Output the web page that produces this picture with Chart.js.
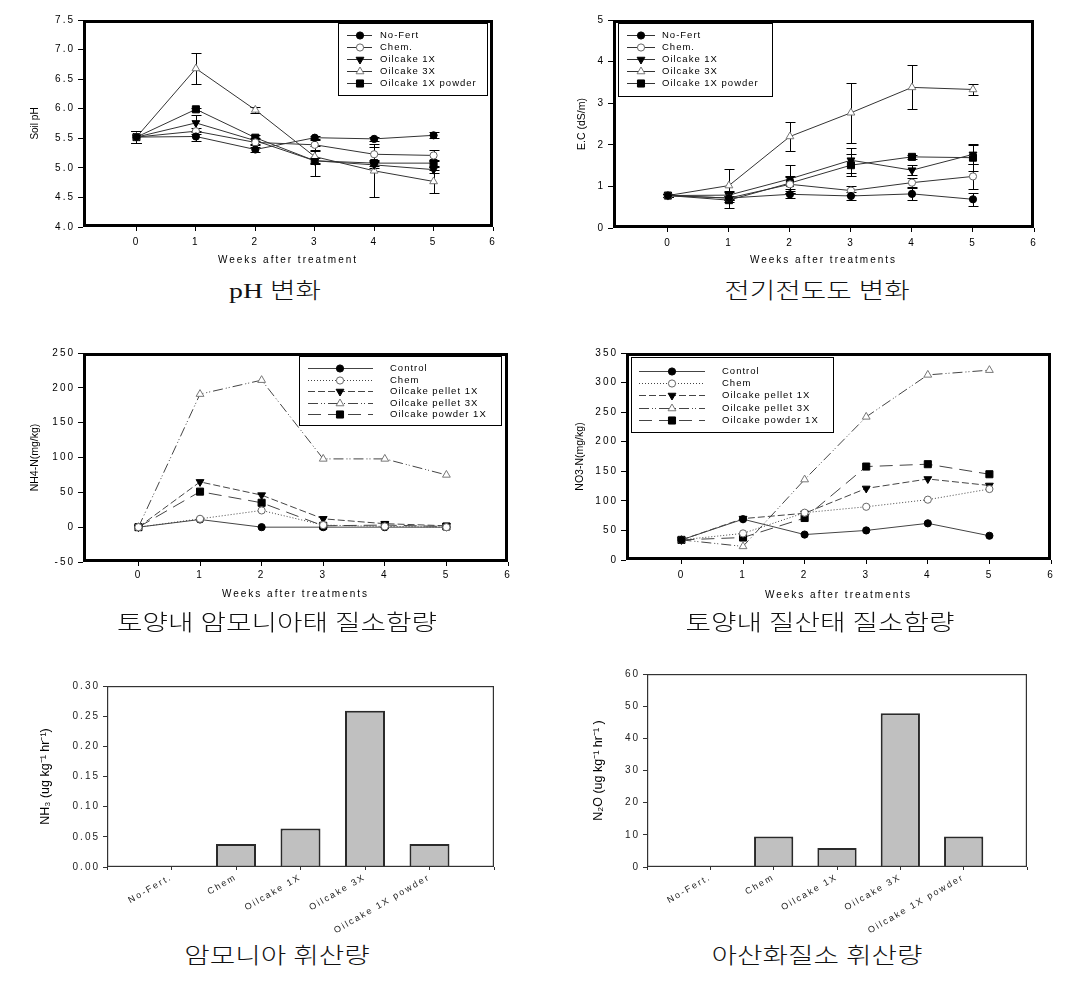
<!DOCTYPE html>
<html><head><meta charset="utf-8">
<script src="https://cdn.jsdelivr.net/npm/chart.js@4.4.1/dist/chart.umd.min.js"></script>
<style>
html,body{margin:0;padding:0;background:#fff;}
body{width:1082px;height:991px;position:relative;overflow:hidden;}
canvas{position:absolute;}
.cap{position:absolute;white-space:nowrap;font-family:'Liberation Serif','Noto Sans CJK KR',serif;font-size:22px;font-weight:300;line-height:30px;color:#111;transform:translateX(-50%) scaleX(1.26);z-index:5;}
</style></head>
<body>
<canvas id="c1" width="540" height="275" style="left:0;top:0"></canvas>
<canvas id="c2" width="541" height="275" style="left:541px;top:0"></canvas>
<canvas id="c3" width="540" height="320" style="left:0;top:310px"></canvas>
<canvas id="c4" width="541" height="320" style="left:541px;top:310px"></canvas>
<canvas id="c5" width="540" height="300" style="left:0;top:640px"></canvas>
<canvas id="c6" width="541" height="300" style="left:541px;top:640px"></canvas>
<div class="cap" style="left:275px;top:276px">pH 변화</div>
<div class="cap" style="left:817px;top:276px">전기전도도 변화</div>
<div class="cap" style="left:277px;top:608px">토양내 암모니아태 질소함량</div>
<div class="cap" style="left:820px;top:608px">토양내 질산태 질소함량</div>
<div class="cap" style="left:277px;top:941px">암모니아 휘산량</div>
<div class="cap" style="left:817px;top:941px">아산화질소 휘산량</div>
<script>
// ---------------- DATA ----------------
const weeks = [0, 1, 2, 3, 4, 5];

const labelsA = ['No-Fert', 'Chem.', 'Oilcake 1X', 'Oilcake 3X', 'Oilcake 1X powder'];
const labelsB = ['Control', 'Chem', 'Oilcake pellet 1X', 'Oilcake pellet 3X', 'Oilcake powder 1X'];

// Soil pH
const phNoFert = [5.52, 5.53, 5.31, 5.51, 5.49, 5.55];
const phChem   = [5.52, 5.62, 5.43, 5.39, 5.23, 5.21];
const phOil1x  = [5.52, 5.76, 5.46, 5.12, 5.05, 4.97];
const phOil3x  = [5.52, 6.68, 5.98, 5.19, 4.95, 4.77];
const phPowder = [5.52, 5.99, 5.51, 5.12, 5.08, 5.08];
const phNoFertErr = [0.10, 0.08, 0.04, 0.03, 0.03, 0.05];
const phChemErr   = [0.10, 0.05, 0.05, 0.08, 0.12, 0.10];
const phOil1xErr  = [0.10, 0.13, 0.05, 0.25, 0.05, 0.05];
const phOil3xErr  = [0.10, 0.27, 0.05, 0.10, 0.45, 0.19];
const phPowderErr = [0.10, 0.03, 0.05, 0.05, 0.05, 0.05];

// E.C (dS/m)
const ecNoFert = [0.78, 0.72, 0.81, 0.77, 0.82, 0.69];
const ecChem   = [0.78, 0.72, 1.05, 0.90, 1.09, 1.24];
const ecOil1x  = [0.78, 0.79, 1.18, 1.63, 1.39, 1.77];
const ecOil3x  = [0.78, 1.02, 2.20, 2.77, 3.38, 3.33];
const ecPowder = [0.78, 0.67, 1.08, 1.51, 1.71, 1.69];
const ecNoFertErr = [0.03, 0.05, 0.08, 0.10, 0.14, 0.16];
const ecChemErr   = [0.03, 0.05, 0.20, 0.10, 0.10, 0.30];
const ecOil1xErr  = [0.03, 0.10, 0.33, 0.30, 0.12, 0.23];
const ecOil3xErr  = [0.03, 0.40, 0.35, 0.72, 0.53, 0.13];
const ecPowderErr = [0.03, 0.19, 0.15, 0.27, 0.05, 0.33];

// NH4-N (mg/kg)
const nh4Control = [0, 11, 0, 0, 0, 0];
const nh4Chem    = [0, 12, 24, 3, 1, 0];
const nh4Pel1x   = [0, 65, 46, 12, 5, 2];
const nh4Pel3x   = [0, 191, 211, 98, 98, 75];
const nh4Pow1x   = [0, 51, 35, 2, 3, 1];

// NO3-N (mg/kg)
const no3Control = [34, 69, 43, 50, 62, 41];
const no3Chem    = [34, 45, 80, 90, 102, 120];
const no3Pel1x   = [34, 70, 79, 121, 137, 126];
const no3Pel3x   = [34, 23, 136, 242, 313, 321];
const no3Pow1x   = [34, 38, 71, 158, 162, 145];

// Volatilization bars
const barCats = ['No-Fert.', 'Chem', 'Oilcake 1X', 'Oilcake 3X', 'Oilcake 1X powder'];
const barPos  = [1, 2, 3, 4, 5];
const nh3Vals = [0, 0.038, 0.064, 0.259, 0.038];
const n2oVals = [0, 9.5, 5.9, 47.8, 9.5];

// ---------------- STYLE ----------------
const markers = [
  {style:'circle',   rot:0,   r:3.6, fill:'#000', stroke:'#000'},
  {style:'circle',   rot:0,   r:3.6, fill:'#fff', stroke:'#666'},
  {style:'triangle', rot:180, r:4.5, fill:'#000', stroke:'#000'},
  {style:'triangle', rot:0,   r:4.5, fill:'#fff', stroke:'#777'},
  {style:'rect',     rot:0,   r:5,   fill:'#000', stroke:'#000'}
];
const dashesB = [[], [1,2], [7,3], [10,3,1,2,1,3], [13,7]];

function mkSets(labels, series, errs, dashes, lineColor, orders){
  return series.map((vals,i)=>({
    label: labels[i],
    data: weeks.map((w,j)=>({x:w, y:vals[j]})),
    errors: errs ? errs[i] : null,
    order: orders ? orders[i] : 0,
    borderColor: lineColor, borderWidth: 1,
    borderDash: dashes ? dashes[i] : [],
    pointStyle: markers[i].style, pointRotation: markers[i].rot,
    pointRadius: markers[i].r, pointHoverRadius: markers[i].r,
    pointBackgroundColor: markers[i].fill, pointBorderColor: markers[i].stroke,
    pointBorderWidth: 1, tension: 0, fill: false
  }));
}

// ---------------- PLUGINS ----------------
const spacingPlugin = {
  id:'spacing',
  beforeLayout(chart,a,o){ chart.ctx.letterSpacing = o.main || '0px'; },
  beforeDraw(chart,a,o){ chart.ctx.letterSpacing = o.main || '0px'; },
  afterDatasetsDraw(chart,a,o){ chart.ctx.letterSpacing = o.after || '0px'; },
  afterDraw(chart){ chart.ctx.letterSpacing = '0px'; }
};
const errPlugin = {
  id:'errbars',
  beforeDatasetsDraw(chart,a,o){
    const ctx=chart.ctx, xs=chart.scales.x, ys=chart.scales.y;
    ctx.save(); ctx.strokeStyle='#000'; ctx.lineWidth=1; ctx.setLineDash([]);
    chart.data.datasets.forEach(ds=>{
      if(!ds.errors) return;
      ds.data.forEach((p,i)=>{
        const e=ds.errors[i]; if(!e) return;
        const x=Math.round(xs.getPixelForValue(p.x))+0.5;
        const y1=Math.round(ys.getPixelForValue(p.y+e))+0.5, y2=Math.round(ys.getPixelForValue(p.y-e))+0.5;
        ctx.beginPath();
        ctx.moveTo(x,y1); ctx.lineTo(x,y2);
        ctx.moveTo(x-5,y1); ctx.lineTo(x+5,y1);
        ctx.moveTo(x-5,y2); ctx.lineTo(x+5,y2);
        ctx.stroke();
      });
    });
    ctx.restore();
  }
};
const framePlugin = {
  id:'frame',
  afterDraw(chart,a,o){
    const ar=chart.chartArea, ctx=chart.ctx, w=o.width||1;
    ctx.save(); ctx.setLineDash([]); ctx.lineWidth=w; ctx.strokeStyle=o.color||'#000';
    ctx.strokeRect(ar.left+w/2, ar.top+w/2, ar.right-ar.left-w, ar.bottom-ar.top-w);
    ctx.restore();
  }
};
const legendPlugin = {
  id:'boxLegend',
  afterDraw(chart,a,o){
    if(!o || !o.box) return;
    const ctx=chart.ctx, b=o.box;
    ctx.save();
    ctx.letterSpacing = o.spacing || '0px';
    ctx.setLineDash([]); ctx.lineWidth=1; ctx.strokeStyle='#000';
    ctx.fillStyle='#fff'; ctx.fillRect(b.x, b.y, b.w, b.h);
    ctx.strokeRect(b.x+0.5, b.y+0.5, b.w, b.h);
    ctx.font = o.font; ctx.textBaseline='middle'; ctx.textAlign='left';
    chart.data.datasets.forEach((ds,i)=>{
      const y = Math.round(b.y + o.row0 + i*o.rowStep) + 0.5;
      ctx.save();
      ctx.strokeStyle = ds.borderColor; ctx.lineWidth = ds.borderWidth;
      ctx.setLineDash(ds.borderDash || []);
      ctx.beginPath(); ctx.moveTo(b.x+o.line0, y); ctx.lineTo(b.x+o.line1, y); ctx.stroke();
      ctx.setLineDash([]);
      ctx.fillStyle = ds.pointBackgroundColor; ctx.strokeStyle = ds.pointBorderColor; ctx.lineWidth = 1;
      Chart.helpers.drawPoint(ctx, {pointStyle: ds.pointStyle, rotation: ds.pointRotation||0, radius: ds.pointRadius, borderWidth: 1}, b.x+o.mark, y);
      ctx.restore();
      ctx.fillStyle='#000';
      ctx.fillText(ds.label, b.x+o.text, y);
    });
    ctx.restore();
  }
};
Chart.register(spacingPlugin, errPlugin, framePlugin, legendPlugin);
Chart.defaults.font.family = "'Liberation Sans', Arial, sans-serif";
Chart.defaults.font.size = 10;
Chart.defaults.color = '#000';

// ---------------- LINE CHART BUILDER ----------------
function lineOptions(p){
  return {
    responsive:false, animation:false, events:[],
    layout:{padding:p.pad},
    scales:{
      x:{type:'linear', min:-0.9, max:6,
         afterFit:s=>{s.height=p.xh;},
         ticks:{stepSize:1, includeBounds:false, padding:p.xpad, font:{size:10}},
         grid:{drawOnChartArea:false, drawTicks:true, tickLength:4, color:'#000'},
         border:{display:false},
         title:{display:true, text:p.xtitle, font:{size:10}, padding:0}},
      y:{type:'linear', min:p.ymin, max:p.ymax,
         afterFit:s=>{s.width=p.yw;},
         ticks:{stepSize:p.ystep, padding:3, font:{size:10}, callback:p.yfmt},
         grid:{drawOnChartArea:false, drawTicks:true, tickLength:5, color:'#000', z:1},
         border:{display:false},
         title:{display:true, text:p.ytitle, font:{size:p.ytsize||10.5}, padding:0}}
    },
    plugins:{
      legend:{display:false}, tooltip:{enabled:false},
      spacing:{main:'2px', after:'0px'},
      frame:{width:3, color:'#000'},
      boxLegend:p.legend
    }
  };
}

new Chart(document.getElementById('c1'), {
  type:'line',
  data:{datasets: mkSets(labelsA, [phNoFert, phChem, phOil1x, phOil3x, phPowder],
                         [phNoFertErr, phChemErr, phOil1xErr, phOil3xErr, phPowderErr], null, '#333')},
  options: lineOptions({pad:{left:29, top:20, right:47, bottom:9}, xh:39, yw:54, xpad:5,
    xtitle:'Weeks after treatment', ytitle:'Soil pH', ytsize:10,
    ymin:4, ymax:7.5, ystep:0.5, yfmt:v=>Number(v).toFixed(1),
    legend:{box:{x:338,y:23,w:149,h:72}, row0:12, rowStep:12, line0:9, line1:34, mark:22, text:42, font:"9.5px 'Liberation Sans', Arial", spacing:'1px'}})
});

new Chart(document.getElementById('c2'), {
  type:'line',
  data:{datasets: mkSets(labelsA, [ecNoFert, ecChem, ecOil1x, ecOil3x, ecPowder],
                         [ecNoFertErr, ecChemErr, ecOil1xErr, ecOil3xErr, ecPowderErr], null, '#333')},
  options: lineOptions({pad:{left:35, top:20, right:48, bottom:9}, xh:38, yw:37, xpad:5,
    xtitle:'Weeks after treatments', ytitle:'E.C (dS/m)',
    ymin:0, ymax:5, ystep:1, yfmt:v=>String(v),
    legend:{box:{x:77,y:23,w:154,h:73}, row0:12, rowStep:12, line0:9, line1:37, mark:23, text:44, font:"9.5px 'Liberation Sans', Arial", spacing:'1px'}})
});

new Chart(document.getElementById('c3'), {
  type:'line',
  data:{datasets: mkSets(labelsB, [nh4Control, nh4Chem, nh4Pel1x, nh4Pel3x, nh4Pow1x], null, dashesB, '#444', [1,0,0,0,0])},
  options: lineOptions({pad:{left:29, top:43, right:32, bottom:30}, xh:38, yw:54, xpad:3,
    xtitle:'Weeks after treatments', ytitle:'NH4-N(mg/kg)',
    ymin:-50, ymax:250, ystep:50, yfmt:v=>String(v),
    legend:{box:{x:299,y:46,w:202,h:69}, row0:12, rowStep:11.5, line0:9, line1:74, mark:41, text:91, font:"9.5px 'Liberation Sans', Arial", spacing:'1px'}})
});

new Chart(document.getElementById('c4'), {
  type:'line',
  data:{datasets: mkSets(labelsB, [no3Control, no3Chem, no3Pel1x, no3Pel3x, no3Pow1x], null, dashesB, '#444')},
  options: lineOptions({pad:{left:33, top:43, right:31, bottom:29}, xh:41, yw:52, xpad:5,
    xtitle:'Weeks after treatments', ytitle:'NO3-N(mg/kg)',
    ymin:0, ymax:350, ystep:50, yfmt:v=>String(v),
    legend:{box:{x:90,y:47,w:202,h:75}, row0:14, rowStep:12.2, line0:8, line1:74, mark:41, text:91, font:"9.5px 'Liberation Sans', Arial", spacing:'1px'}})
});

// ---------------- BAR CHART BUILDER ----------------
function barChart(id, vals, p){
  return new Chart(document.getElementById(id), {
    type:'bar',
    data:{datasets:[{
      label:p.ytitle,
      data: barPos.map((x,i)=>({x:x, y:vals[i]})),
      backgroundColor:'#c0c0c0', borderColor:'#2a2a2a', borderWidth:{top:2,left:2,right:2,bottom:0},
      borderSkipped:'start', barPercentage:0.62, categoryPercentage:1
    }]},
    options:{
      responsive:false, animation:false, events:[],
      layout:{padding:p.pad},
      scales:{
        x:{type:'linear', min:0, max:6, offset:false,
           afterFit:s=>{s.height=70;},
           ticks:{stepSize:1, autoSkip:false, minRotation:30, maxRotation:30, padding:2,
                  font:{size:9}, color:'#222', callback:v=>(barCats[v-1] !== undefined ? barCats[v-1] : '')},
           grid:{offset:false, drawOnChartArea:false, drawTicks:true, tickLength:3, color:'#333'},
           border:{display:false}},
        y:{type:'linear', min:0, max:p.ymax,
           afterFit:s=>{s.width=p.yw;},
           ticks:{stepSize:p.ystep, padding:3, font:{size:10}, color:'#222', callback:p.yfmt},
           grid:{drawOnChartArea:false, drawTicks:true, tickLength:4, color:'#333', z:1},
           border:{display:false},
           title:{display:true, text:p.ytitle, font:{size:12.5}, padding:0}}
      },
      plugins:{
        legend:{display:false}, tooltip:{enabled:false},
        spacing:{main:'2px', after:'0px'},
        frame:{width:1.2, color:'#333'}
      }
    }
  });
}

barChart('c5', nh3Vals, {pad:{left:38, top:46, right:46, bottom:3}, yw:69, ymax:0.30, ystep:0.05,
  yfmt:v=>Number(v).toFixed(2), ytitle:'NH\u2083 (ug kg\u207B\u00B9 hr\u207B\u00B9)'});
barChart('c6', n2oVals, {pad:{left:50, top:34, right:55, bottom:3}, yw:56, ymax:60, ystep:10,
  yfmt:v=>String(v), ytitle:'N\u2082O (ug kg\u207B\u00B9 hr\u207B\u00B9 )'});
</script>
</body></html>
